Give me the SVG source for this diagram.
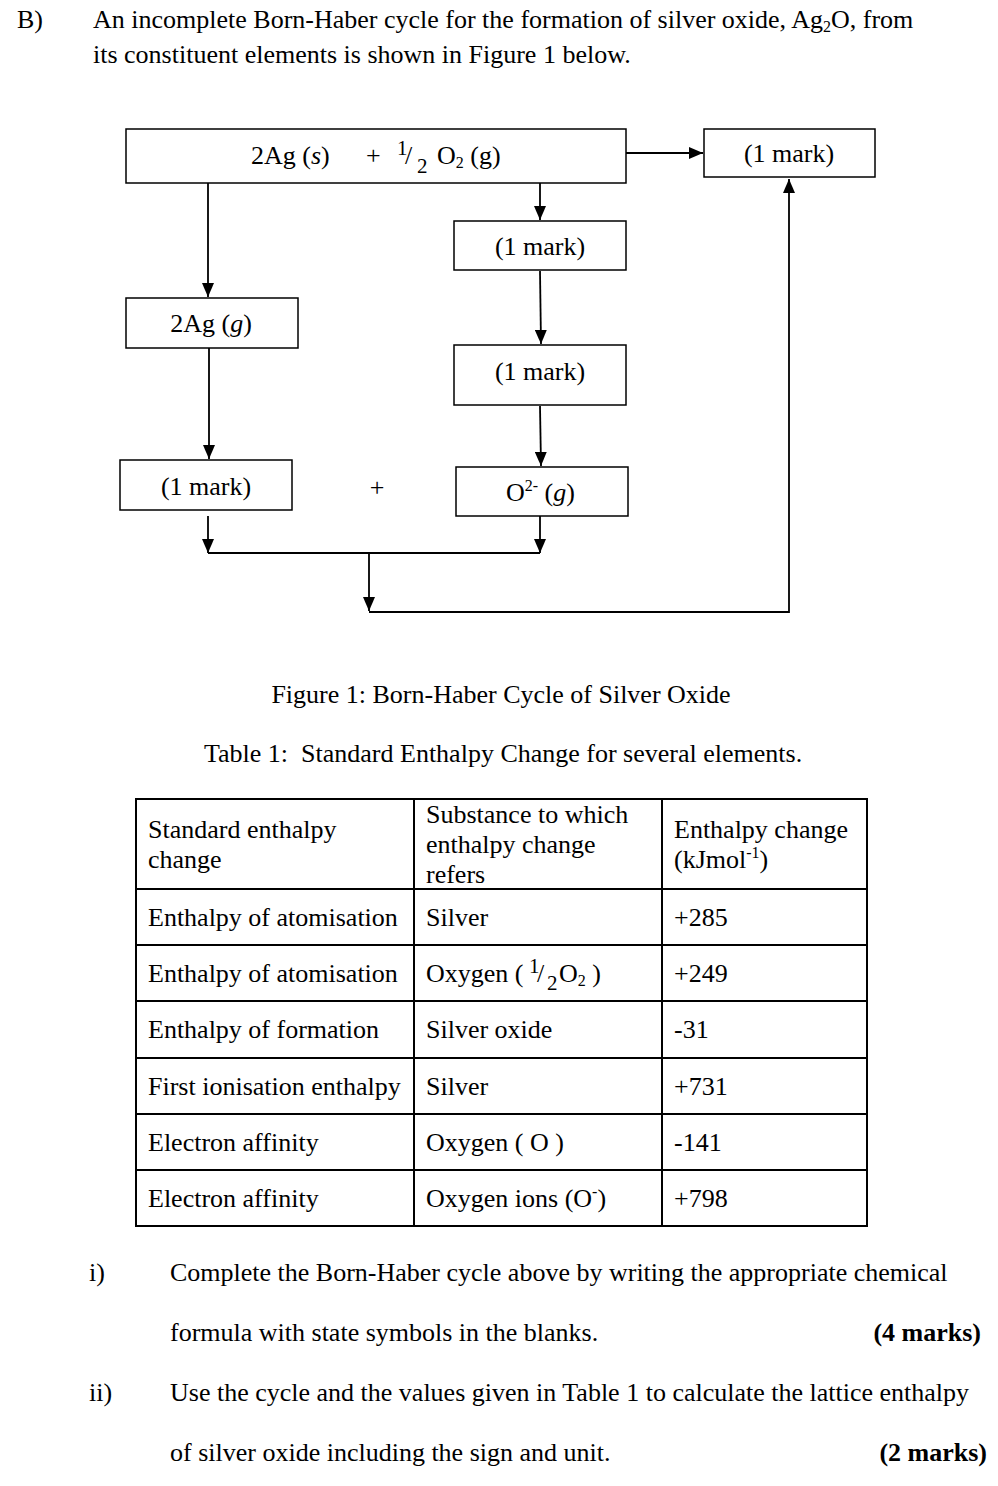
<svg xmlns="http://www.w3.org/2000/svg" width="998" height="1486" viewBox="0 0 998 1486">
<style>
text{font-family:"Liberation Serif","Times New Roman",serif;font-size:26px;fill:#000}
.box{fill:#fff;stroke:#000;stroke-width:1.5}
.ln{fill:none;stroke:#000;stroke-width:1.8}
.tb{fill:none;stroke:#000;stroke-width:2}
.mid{text-anchor:middle}
.b{font-weight:bold}
.sm{font-size:16px}
.fr{font-size:21px}
</style>
<defs>
<marker id="ah" viewBox="0 0 14 12" refX="14" refY="6" markerWidth="14" markerHeight="12" markerUnits="userSpaceOnUse" orient="auto">
<path d="M0,0 L14,6 L0,12 z" fill="#000"/>
</marker>
</defs>
<rect width="998" height="1486" fill="#fff"/>

<g id="header">
<text x="17" y="28">B)</text>
<text x="93" y="28">An incomplete Born-Haber cycle for the formation of silver oxide, Ag<tspan class="sm" dy="4">2</tspan><tspan dy="-4">O, from</tspan></text>
<text x="93" y="63">its constituent elements is shown in Figure 1 below.</text>
</g>

<g id="connectors">
<line class="ln" x1="626" y1="153" x2="703" y2="153" marker-end="url(#ah)"/>
<line class="ln" x1="208" y1="183" x2="208" y2="297" marker-end="url(#ah)"/>
<line class="ln" x1="540" y1="183" x2="540" y2="220" marker-end="url(#ah)"/>
<line class="ln" x1="540" y1="271" x2="541" y2="344" marker-end="url(#ah)"/>
<line class="ln" x1="540" y1="406" x2="541" y2="466" marker-end="url(#ah)"/>
<line class="ln" x1="209" y1="348" x2="209" y2="459" marker-end="url(#ah)"/>
<line class="ln" x1="208" y1="516" x2="208" y2="553" marker-end="url(#ah)"/>
<line class="ln" x1="540" y1="516" x2="540" y2="553" marker-end="url(#ah)"/>
<line class="ln" x1="208" y1="553" x2="540" y2="553"/>
<line class="ln" x1="369" y1="553" x2="369" y2="611" marker-end="url(#ah)"/>
<polyline class="ln" points="369,612 789,612 789,179" marker-end="url(#ah)"/>
</g>

<g id="node-elements">
<rect class="box" x="126" y="129" width="500" height="54"/>
<text x="251" y="164">2Ag (<tspan font-style="italic">s</tspan>)</text>
<text x="366" y="164">+</text>
<text class="fr" x="397" y="155">1</text>
<text x="405" y="164">/</text>
<text class="fr" x="417" y="173">2</text>
<text x="437" y="164">O<tspan class="sm" dy="4">2</tspan><tspan dy="-4"> (g)</tspan></text>
</g>

<g id="node-product">
<rect class="box" x="704" y="129" width="171" height="48"/>
<text class="mid" x="789" y="162">(1 mark)</text>
</g>

<g id="node-ag-gas">
<rect class="box" x="126" y="298" width="172" height="50"/>
<text class="mid" x="211" y="332">2Ag (<tspan font-style="italic">g</tspan>)</text>
</g>

<g id="node-o-atom">
<rect class="box" x="454" y="221" width="172" height="49"/>
<text class="mid" x="540" y="255">(1 mark)</text>
</g>

<g id="node-o-minus">
<rect class="box" x="454" y="345" width="172" height="60"/>
<text class="mid" x="540" y="380">(1 mark)</text>
</g>

<g id="node-ag-ion">
<rect class="box" x="120" y="460" width="172" height="50"/>
<text class="mid" x="206" y="495">(1 mark)</text>
</g>

<g id="plus">
<text class="mid" x="377" y="496">+</text>
</g>

<g id="node-o2minus">
<rect class="box" x="456" y="467" width="172" height="49"/>
<text x="506" y="501">O<tspan class="sm" dy="-10">2-</tspan><tspan dy="10"> (</tspan><tspan font-style="italic">g</tspan>)</text>
</g>

<g id="captions">
<text class="mid" x="501" y="703">Figure 1: Born-Haber Cycle of Silver Oxide</text>
<text x="204" y="762" xml:space="preserve">Table 1:  Standard Enthalpy Change for several elements.</text>
</g>

<g id="table">
<rect class="tb" x="136" y="799" width="731" height="427"/>
<line class="tb" x1="414" y1="799" x2="414" y2="1226"/>
<line class="tb" x1="662" y1="799" x2="662" y2="1226"/>
<line class="tb" x1="136" y1="889" x2="867" y2="889"/>
<line class="tb" x1="136" y1="945" x2="867" y2="945"/>
<line class="tb" x1="136" y1="1001" x2="867" y2="1001"/>
<line class="tb" x1="136" y1="1058" x2="867" y2="1058"/>
<line class="tb" x1="136" y1="1114" x2="867" y2="1114"/>
<line class="tb" x1="136" y1="1170" x2="867" y2="1170"/>

<text x="148" y="838">Standard enthalpy</text>
<text x="148" y="868">change</text>
<text x="426" y="823">Substance to which</text>
<text x="426" y="853">enthalpy change</text>
<text x="426" y="883">refers</text>
<text x="674" y="838">Enthalpy change</text>
<text x="674" y="868">(kJmol<tspan class="sm" dy="-10">-1</tspan><tspan dy="10">)</tspan></text>

<text x="148" y="926">Enthalpy of atomisation</text>
<text x="426" y="926">Silver</text>
<text x="674" y="926">+285</text>

<text x="148" y="982">Enthalpy of atomisation</text>
<text x="426" y="982">Oxygen (</text>
<text class="fr" x="529" y="973">1</text>
<text x="537" y="982">/</text>
<text class="fr" x="547" y="990">2</text>
<text x="559" y="982">O<tspan class="sm" dy="4">2</tspan><tspan dy="-4"> )</tspan></text>
<text x="674" y="982">+249</text>

<text x="148" y="1038">Enthalpy of formation</text>
<text x="426" y="1038">Silver oxide</text>
<text x="674" y="1038">-31</text>

<text x="148" y="1095">First ionisation enthalpy</text>
<text x="426" y="1095">Silver</text>
<text x="674" y="1095">+731</text>

<text x="148" y="1151">Electron affinity</text>
<text x="426" y="1151">Oxygen ( O )</text>
<text x="674" y="1151">-141</text>

<text x="148" y="1207">Electron affinity</text>
<text x="426" y="1207">Oxygen ions (O<tspan class="sm" dy="-10">-</tspan><tspan dy="10">)</tspan></text>
<text x="674" y="1207">+798</text>
</g>

<g id="questions">
<text x="89" y="1281">i)</text>
<text x="170" y="1281">Complete the Born-Haber cycle above by writing the appropriate chemical</text>
<text x="170" y="1341">formula with state symbols in the blanks.</text>
<text class="b" x="981" y="1341" text-anchor="end">(4 marks)</text>
<text x="89" y="1401">ii)</text>
<text x="170" y="1401">Use the cycle and the values given in Table 1 to calculate the lattice enthalpy</text>
<text x="170" y="1461">of silver oxide including the sign and unit.</text>
<text class="b" x="987" y="1461" text-anchor="end">(2 marks)</text>
</g>
</svg>
